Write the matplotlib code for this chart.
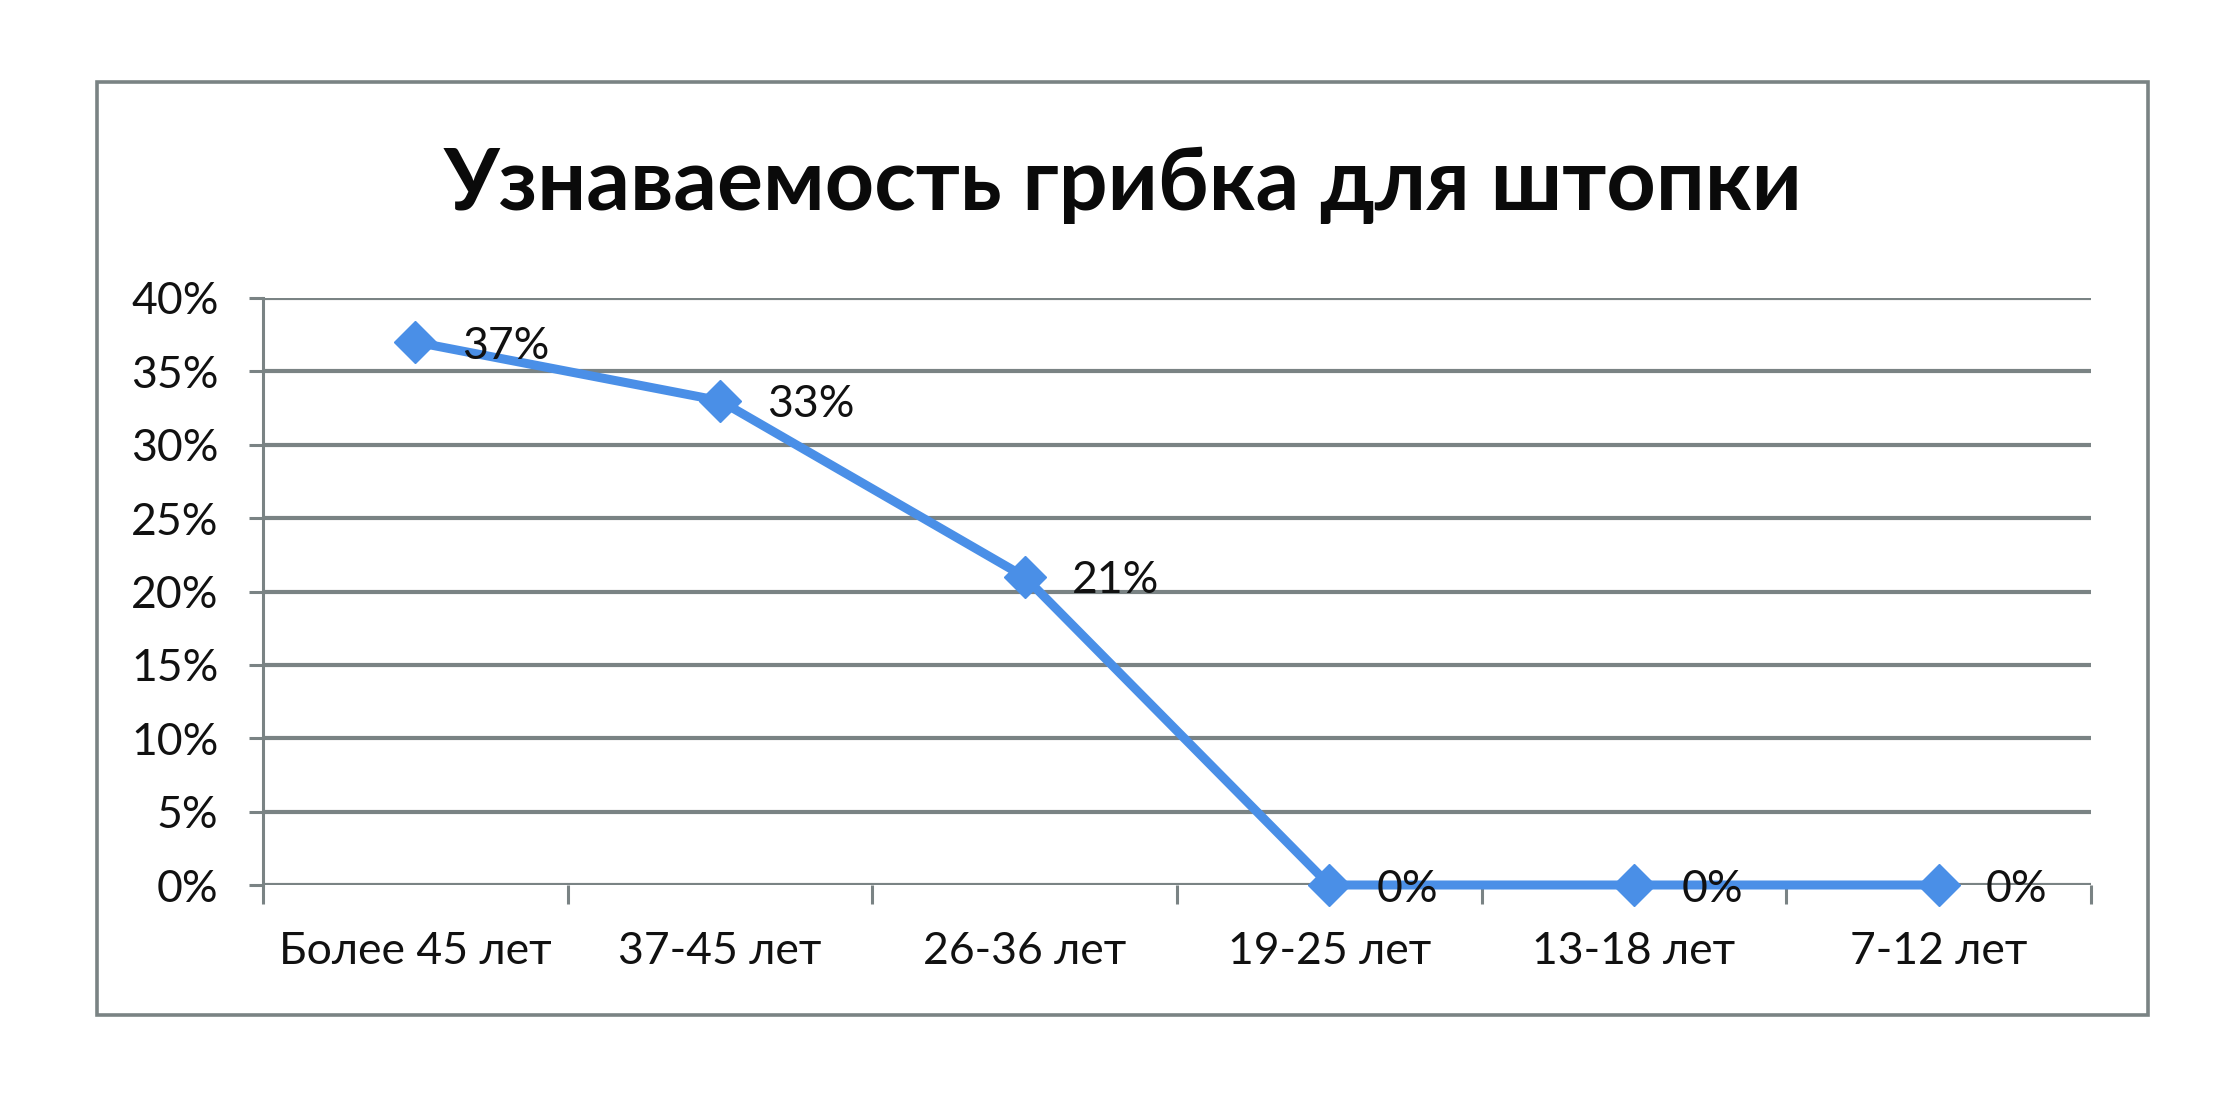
import matplotlib
matplotlib.use("Agg")
import matplotlib.pyplot as plt
from matplotlib.patches import Rectangle
from matplotlib.ticker import FixedLocator, FuncFormatter

categories = ["Более 45 лет", "37-45 лет", "26-36 лет", "19-25 лет", "13-18 лет", "7-12 лет"]
values = [0.37, 0.33, 0.21, 0.0, 0.0, 0.0]
y_ticks = [0.0, 0.05, 0.10, 0.15, 0.20, 0.25, 0.30, 0.35, 0.40]
title = "Узнаваемость грибка для штопки"

FONT = ['Lato', 'DejaVu Sans']
plt.rcParams['font.family'] = FONT

W, H = 2230, 1094
fig = plt.figure(figsize=(W / 100, H / 100), dpi=100)
fig.patch.set_facecolor("white")

# outer border
fig.add_artist(Rectangle((97 / W, 1 - 1015 / H), (2148 - 97) / W, (1015 - 82) / H,
                         transform=fig.transFigure, fill=False, edgecolor="#7a8384", lw=2.6))

ax = fig.add_axes([263 / W, 1 - 885 / H, (2091 - 263) / W, (885 - 298) / H])
grid_c = "#7a8384"
blue = "#4a8fe7"
x = list(range(len(categories)))

ax.set_xlim(-0.5, len(categories) - 0.5)
ax.set_ylim(0, 0.40)
for yv in y_ticks:
    ax.axhline(yv, color=grid_c, lw=3.0, zorder=1)

ax.plot(x, values, color=blue, lw=6.5, marker="D", markersize=21, zorder=3, clip_on=False)
for xi, v in zip(x, values):
    ax.annotate(f"{round(v * 100)}%", (xi, v), xytext=(34, -3), textcoords="offset points",
                ha="left", va="center", fontsize=32, color="#111111", zorder=4)

for s in ["top", "right", "bottom"]:
    ax.spines[s].set_visible(False)
ax.spines["left"].set_color(grid_c)
ax.spines["left"].set_linewidth(2.2)

ax.yaxis.set_major_locator(FixedLocator(y_ticks))
ax.yaxis.set_major_formatter(FuncFormatter(lambda v, p: f"{round(v * 100)}%"))
ax.tick_params(axis="y", length=10, width=2.2, color=grid_c, labelsize=32, pad=22, labelcolor="#111111")

ax.set_xticks(x)
ax.set_xticklabels(categories)
ax.tick_params(axis="x", which="major", length=0, labelsize=32, pad=33, labelcolor="#111111")
ax.set_xticks([i - 0.5 for i in range(len(categories) + 1)], minor=True)
ax.tick_params(axis="x", which="minor", length=14, width=2.2, color=grid_c)

fig.text(1123 / W, 1 - 210 / H, title, ha="center", va="baseline",
         fontsize=62, fontweight="bold", color="#0a0a0a", family=['Lato', 'DejaVu Sans'])

fig.savefig("out.png", dpi=100, facecolor="white")
